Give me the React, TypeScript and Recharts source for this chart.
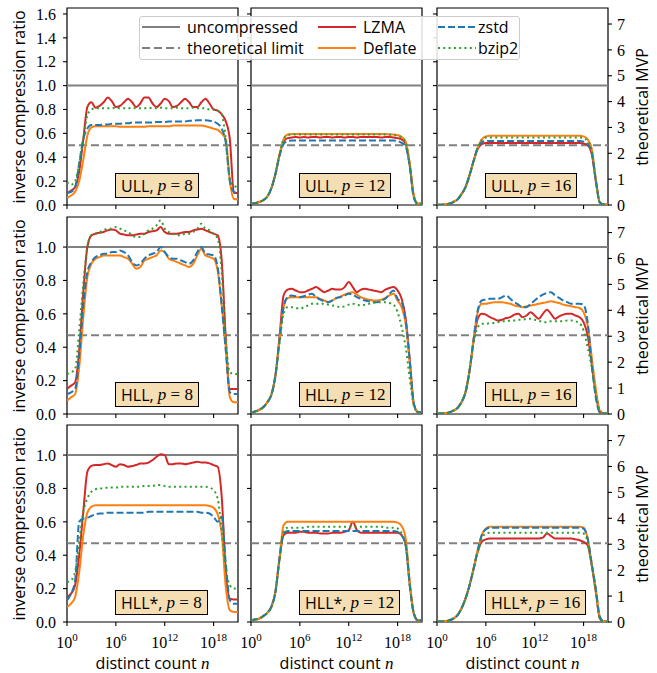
import React from "react";
import { LineChart, Line, XAxis, YAxis, ReferenceLine, ReferenceArea } from "recharts";

// log10(n) grid
const LOG_N = [0, 0.5, 1, 1.5, 2, 2.5, 3, 3.5, 4, 4.5, 5, 5.5, 6, 6.5, 7, 7.5, 8, 8.5, 9, 9.5, 10, 10.5, 11, 11.5, 12, 12.5, 13, 13.5, 14, 14.5, 15, 15.5, 16, 16.5, 17, 17.5, 18, 18.5, 19, 19.5, 20, 20.5, 21];
const X_TICKS = [0, 6, 12, 18];
const Y_TICKS_ULL = [0, 0.2, 0.4, 0.6, 0.8, 1.0, 1.2, 1.4, 1.6];
const Y_TICKS_HLL = [0, 0.2, 0.4, 0.6, 0.8, 1.0];
const MVP_TICKS = [0, 1, 2, 3, 4, 5, 6, 7];
const SKETCHES = ["ULL", "HLL", "HLL*"];
const PRECISIONS = [8, 12, 16];
const UNCOMPRESSED = 1.0;
const THEORETICAL_LIMIT = [0.5, 0.472, 0.472];
const Y_MAX = [1.65, 1.18, 1.18];
const MVP_MAX = [7.62, 7.6, 7.6];

// ULL, p = 8
const ULL8_LZMA = [0.10, 0.12, 0.15, 0.28, 0.55, 0.82, 0.86, 0.815, 0.83, 0.86, 0.90, 0.87, 0.82, 0.83, 0.86, 0.89, 0.86, 0.82, 0.85, 0.90, 0.90, 0.85, 0.82, 0.85, 0.89, 0.87, 0.82, 0.83, 0.86, 0.89, 0.86, 0.82, 0.82, 0.86, 0.89, 0.85, 0.80, 0.79, 0.76, 0.70, 0.55, 0.10, 0.10];
const ULL8_DEFLATE = [0.06, 0.08, 0.11, 0.20, 0.38, 0.58, 0.65, 0.66, 0.66, 0.66, 0.66, 0.66, 0.66, 0.655, 0.655, 0.655, 0.655, 0.655, 0.655, 0.655, 0.66, 0.66, 0.66, 0.66, 0.66, 0.66, 0.665, 0.665, 0.665, 0.665, 0.665, 0.665, 0.665, 0.665, 0.66, 0.65, 0.64, 0.63, 0.60, 0.55, 0.20, 0.05, 0.045];
const ULL8_ZSTD = [0.10, 0.11, 0.15, 0.35, 0.55, 0.64, 0.67, 0.67, 0.67, 0.675, 0.675, 0.68, 0.68, 0.68, 0.685, 0.685, 0.69, 0.69, 0.69, 0.69, 0.69, 0.69, 0.695, 0.695, 0.695, 0.70, 0.70, 0.70, 0.70, 0.70, 0.705, 0.705, 0.71, 0.71, 0.71, 0.705, 0.70, 0.68, 0.64, 0.52, 0.20, 0.11, 0.10];
const ULL8_BZIP2 = [0.19, 0.17, 0.20, 0.35, 0.55, 0.75, 0.80, 0.81, 0.81, 0.81, 0.81, 0.81, 0.815, 0.81, 0.81, 0.81, 0.815, 0.81, 0.81, 0.81, 0.815, 0.81, 0.81, 0.815, 0.81, 0.81, 0.81, 0.815, 0.81, 0.81, 0.81, 0.815, 0.81, 0.81, 0.81, 0.80, 0.80, 0.79, 0.76, 0.55, 0.22, 0.16, 0.15];

// ULL, p = 12
const ULL12_LZMA = [0.01, 0.015, 0.025, 0.04, 0.07, 0.14, 0.26, 0.42, 0.53, 0.56, 0.565, 0.57, 0.565, 0.57, 0.565, 0.57, 0.57, 0.565, 0.57, 0.57, 0.565, 0.57, 0.57, 0.565, 0.57, 0.57, 0.565, 0.57, 0.57, 0.57, 0.57, 0.57, 0.565, 0.57, 0.57, 0.565, 0.56, 0.55, 0.51, 0.33, 0.07, 0.01, 0.01];
const ULL12_DEFLATE = [0.01, 0.015, 0.025, 0.04, 0.07, 0.14, 0.26, 0.42, 0.55, 0.59, 0.595, 0.595, 0.595, 0.595, 0.595, 0.595, 0.595, 0.595, 0.595, 0.595, 0.595, 0.595, 0.595, 0.595, 0.595, 0.595, 0.595, 0.595, 0.595, 0.595, 0.595, 0.595, 0.595, 0.595, 0.59, 0.59, 0.585, 0.57, 0.53, 0.35, 0.08, 0.01, 0.01];
const ULL12_ZSTD = [0.01, 0.015, 0.025, 0.04, 0.07, 0.14, 0.26, 0.41, 0.51, 0.535, 0.54, 0.54, 0.54, 0.54, 0.54, 0.54, 0.54, 0.54, 0.54, 0.54, 0.54, 0.54, 0.54, 0.54, 0.54, 0.54, 0.54, 0.54, 0.54, 0.54, 0.54, 0.54, 0.54, 0.54, 0.54, 0.54, 0.535, 0.52, 0.49, 0.32, 0.06, 0.01, 0.01];
const ULL12_BZIP2 = [0.01, 0.015, 0.025, 0.04, 0.07, 0.14, 0.26, 0.42, 0.55, 0.585, 0.59, 0.59, 0.59, 0.59, 0.59, 0.59, 0.59, 0.59, 0.59, 0.59, 0.59, 0.59, 0.59, 0.59, 0.59, 0.59, 0.59, 0.59, 0.59, 0.59, 0.59, 0.59, 0.59, 0.59, 0.59, 0.585, 0.58, 0.565, 0.52, 0.33, 0.07, 0.01, 0.01];

// ULL, p = 16
const ULL16_LZMA = [0.003, 0.003, 0.005, 0.01, 0.025, 0.045, 0.09, 0.15, 0.25, 0.37, 0.47, 0.51, 0.52, 0.52, 0.52, 0.52, 0.52, 0.52, 0.52, 0.52, 0.52, 0.52, 0.52, 0.52, 0.52, 0.52, 0.52, 0.52, 0.52, 0.52, 0.52, 0.52, 0.52, 0.52, 0.52, 0.52, 0.515, 0.50, 0.43, 0.20, 0.02, 0.005, 0.005];
const ULL16_DEFLATE = [0.003, 0.003, 0.005, 0.01, 0.025, 0.045, 0.09, 0.15, 0.25, 0.37, 0.48, 0.55, 0.575, 0.58, 0.58, 0.58, 0.58, 0.58, 0.58, 0.58, 0.58, 0.58, 0.58, 0.58, 0.58, 0.58, 0.58, 0.58, 0.58, 0.58, 0.58, 0.58, 0.58, 0.58, 0.58, 0.58, 0.575, 0.55, 0.47, 0.22, 0.02, 0.005, 0.005];
const ULL16_ZSTD = [0.003, 0.003, 0.005, 0.01, 0.025, 0.045, 0.09, 0.15, 0.25, 0.37, 0.48, 0.525, 0.535, 0.535, 0.535, 0.535, 0.535, 0.535, 0.535, 0.535, 0.535, 0.535, 0.535, 0.535, 0.535, 0.535, 0.535, 0.535, 0.535, 0.535, 0.535, 0.535, 0.535, 0.535, 0.535, 0.535, 0.53, 0.51, 0.44, 0.21, 0.02, 0.005, 0.005];
const ULL16_BZIP2 = [0.003, 0.003, 0.005, 0.01, 0.025, 0.045, 0.09, 0.15, 0.25, 0.37, 0.48, 0.545, 0.565, 0.565, 0.565, 0.565, 0.565, 0.565, 0.565, 0.565, 0.565, 0.565, 0.565, 0.565, 0.565, 0.565, 0.565, 0.565, 0.565, 0.565, 0.565, 0.565, 0.565, 0.565, 0.565, 0.565, 0.56, 0.535, 0.46, 0.21, 0.02, 0.005, 0.005];

// HLL, p = 8
const HLL8_LZMA = [0.15, 0.17, 0.19, 0.38, 0.73, 1.0, 1.07, 1.08, 1.085, 1.09, 1.10, 1.105, 1.10, 1.08, 1.075, 1.07, 1.07, 1.075, 1.08, 1.08, 1.09, 1.095, 1.10, 1.12, 1.09, 1.08, 1.08, 1.08, 1.085, 1.09, 1.09, 1.10, 1.105, 1.11, 1.10, 1.09, 1.08, 1.07, 0.92, 0.45, 0.15, 0.15, 0.15];
const HLL8_DEFLATE = [0.08, 0.10, 0.12, 0.28, 0.58, 0.82, 0.90, 0.93, 0.94, 0.95, 0.95, 0.95, 0.95, 0.95, 0.94, 0.93, 0.90, 0.87, 0.88, 0.92, 0.93, 0.94, 0.95, 0.98, 0.97, 0.93, 0.92, 0.91, 0.90, 0.89, 0.88, 0.90, 0.95, 0.99, 0.95, 0.94, 0.93, 0.86, 0.65, 0.40, 0.10, 0.07, 0.07];
const HLL8_ZSTD = [0.12, 0.13, 0.15, 0.35, 0.65, 0.85, 0.91, 0.94, 0.95, 0.96, 0.96, 0.97, 0.97, 0.98, 0.97, 0.95, 0.91, 0.89, 0.90, 0.93, 0.95, 0.96, 0.97, 1.0, 0.97, 0.94, 0.93, 0.93, 0.92, 0.91, 0.90, 0.92, 0.97, 1.0, 0.96, 0.955, 0.95, 0.88, 0.65, 0.38, 0.13, 0.12, 0.12];
const HLL8_BZIP2 = [0.24, 0.25, 0.27, 0.50, 0.78, 1.0, 1.07, 1.08, 1.09, 1.10, 1.11, 1.11, 1.12, 1.11, 1.10, 1.09, 1.07, 1.06, 1.06, 1.08, 1.10, 1.11, 1.13, 1.16, 1.11, 1.09, 1.08, 1.07, 1.07, 1.08, 1.08, 1.09, 1.11, 1.14, 1.11, 1.10, 1.08, 1.05, 0.85, 0.45, 0.25, 0.24, 0.24];

// HLL, p = 12
const HLL12_LZMA = [0.01, 0.015, 0.025, 0.04, 0.07, 0.115, 0.23, 0.46, 0.71, 0.745, 0.75, 0.74, 0.73, 0.73, 0.74, 0.75, 0.76, 0.745, 0.73, 0.74, 0.75, 0.745, 0.745, 0.76, 0.79, 0.76, 0.73, 0.745, 0.75, 0.745, 0.74, 0.735, 0.73, 0.745, 0.755, 0.76, 0.74, 0.69, 0.57, 0.32, 0.06, 0.012, 0.01];
const HLL12_DEFLATE = [0.01, 0.015, 0.025, 0.04, 0.07, 0.115, 0.23, 0.44, 0.64, 0.695, 0.70, 0.70, 0.70, 0.70, 0.70, 0.70, 0.70, 0.69, 0.68, 0.67, 0.68, 0.695, 0.705, 0.715, 0.725, 0.73, 0.715, 0.70, 0.69, 0.685, 0.68, 0.68, 0.685, 0.695, 0.71, 0.72, 0.68, 0.64, 0.54, 0.31, 0.06, 0.012, 0.01];
const HLL12_ZSTD = [0.01, 0.015, 0.025, 0.04, 0.07, 0.115, 0.23, 0.44, 0.64, 0.70, 0.71, 0.705, 0.70, 0.705, 0.715, 0.72, 0.70, 0.685, 0.675, 0.67, 0.68, 0.695, 0.70, 0.71, 0.72, 0.715, 0.70, 0.69, 0.68, 0.675, 0.67, 0.67, 0.68, 0.69, 0.72, 0.74, 0.69, 0.67, 0.56, 0.32, 0.06, 0.012, 0.01];
const HLL12_BZIP2 = [0.01, 0.015, 0.025, 0.04, 0.07, 0.115, 0.23, 0.43, 0.60, 0.64, 0.64, 0.635, 0.63, 0.64, 0.65, 0.66, 0.66, 0.66, 0.66, 0.655, 0.65, 0.645, 0.64, 0.645, 0.655, 0.66, 0.655, 0.65, 0.655, 0.66, 0.665, 0.67, 0.67, 0.67, 0.665, 0.655, 0.61, 0.52, 0.40, 0.21, 0.05, 0.01, 0.01];

// HLL, p = 16
const HLL16_LZMA = [0.003, 0.003, 0.005, 0.01, 0.02, 0.035, 0.07, 0.13, 0.26, 0.44, 0.57, 0.60, 0.595, 0.58, 0.57, 0.56, 0.565, 0.575, 0.58, 0.595, 0.60, 0.58, 0.59, 0.61, 0.59, 0.57, 0.60, 0.625, 0.60, 0.57, 0.585, 0.595, 0.60, 0.60, 0.59, 0.58, 0.55, 0.47, 0.30, 0.12, 0.01, 0.003, 0.003];
const HLL16_DEFLATE = [0.003, 0.003, 0.005, 0.01, 0.02, 0.035, 0.07, 0.13, 0.26, 0.45, 0.61, 0.66, 0.66, 0.665, 0.67, 0.67, 0.67, 0.665, 0.66, 0.65, 0.645, 0.64, 0.645, 0.65, 0.655, 0.66, 0.665, 0.67, 0.675, 0.67, 0.665, 0.655, 0.65, 0.645, 0.64, 0.635, 0.61, 0.53, 0.34, 0.15, 0.02, 0.003, 0.003];
const HLL16_ZSTD = [0.003, 0.003, 0.005, 0.01, 0.02, 0.035, 0.07, 0.13, 0.26, 0.45, 0.62, 0.68, 0.685, 0.69, 0.69, 0.69, 0.70, 0.71, 0.69, 0.67, 0.655, 0.64, 0.64, 0.66, 0.68, 0.70, 0.715, 0.725, 0.73, 0.71, 0.695, 0.68, 0.67, 0.66, 0.66, 0.66, 0.655, 0.55, 0.30, 0.10, 0.01, 0.003, 0.003];
const HLL16_BZIP2 = [0.003, 0.003, 0.005, 0.01, 0.02, 0.035, 0.07, 0.13, 0.26, 0.43, 0.52, 0.54, 0.54, 0.545, 0.545, 0.55, 0.555, 0.555, 0.56, 0.56, 0.565, 0.565, 0.57, 0.57, 0.565, 0.56, 0.55, 0.55, 0.555, 0.555, 0.555, 0.555, 0.56, 0.56, 0.555, 0.545, 0.50, 0.40, 0.28, 0.13, 0.02, 0.003, 0.003];

// HLL*, p = 8
const HLLS8_LZMA = [0.15, 0.17, 0.22, 0.40, 0.66, 0.90, 0.935, 0.94, 0.94, 0.945, 0.95, 0.94, 0.93, 0.945, 0.94, 0.93, 0.935, 0.94, 0.95, 0.95, 0.955, 0.97, 0.99, 1.005, 1.0, 0.945, 0.945, 0.95, 0.95, 0.945, 0.95, 0.955, 0.96, 0.955, 0.955, 0.95, 0.94, 0.93, 0.75, 0.30, 0.14, 0.135, 0.135];
const HLLS8_DEFLATE = [0.09, 0.11, 0.15, 0.30, 0.52, 0.655, 0.69, 0.70, 0.70, 0.70, 0.70, 0.70, 0.70, 0.70, 0.70, 0.70, 0.70, 0.70, 0.70, 0.70, 0.70, 0.70, 0.70, 0.70, 0.70, 0.70, 0.70, 0.70, 0.70, 0.70, 0.70, 0.70, 0.70, 0.70, 0.70, 0.695, 0.685, 0.645, 0.53, 0.21, 0.07, 0.06, 0.06];
const HLLS8_ZSTD = [0.13, 0.17, 0.25, 0.60, 0.62, 0.625, 0.635, 0.645, 0.65, 0.65, 0.655, 0.655, 0.655, 0.655, 0.655, 0.655, 0.655, 0.655, 0.655, 0.655, 0.66, 0.66, 0.66, 0.66, 0.66, 0.66, 0.66, 0.66, 0.66, 0.66, 0.66, 0.66, 0.66, 0.655, 0.655, 0.65, 0.63, 0.60, 0.63, 0.35, 0.13, 0.11, 0.11];
const HLLS8_BZIP2 = [0.24, 0.25, 0.30, 0.48, 0.66, 0.74, 0.78, 0.795, 0.80, 0.80, 0.805, 0.805, 0.805, 0.81, 0.81, 0.81, 0.81, 0.81, 0.81, 0.815, 0.815, 0.815, 0.82, 0.82, 0.815, 0.81, 0.81, 0.81, 0.81, 0.81, 0.81, 0.81, 0.81, 0.81, 0.81, 0.805, 0.79, 0.74, 0.55, 0.32, 0.22, 0.20, 0.20];

// HLL*, p = 12
const HLLS12_LZMA = [0.01, 0.015, 0.02, 0.035, 0.055, 0.09, 0.18, 0.38, 0.52, 0.535, 0.535, 0.535, 0.54, 0.54, 0.535, 0.535, 0.535, 0.53, 0.53, 0.53, 0.535, 0.535, 0.535, 0.54, 0.55, 0.60, 0.55, 0.535, 0.535, 0.535, 0.535, 0.535, 0.535, 0.535, 0.535, 0.535, 0.535, 0.52, 0.46, 0.22, 0.05, 0.01, 0.01];
const HLLS12_DEFLATE = [0.01, 0.015, 0.02, 0.035, 0.055, 0.09, 0.18, 0.38, 0.58, 0.60, 0.60, 0.60, 0.60, 0.60, 0.60, 0.60, 0.60, 0.60, 0.60, 0.60, 0.60, 0.60, 0.60, 0.60, 0.60, 0.60, 0.60, 0.60, 0.60, 0.60, 0.60, 0.60, 0.60, 0.60, 0.60, 0.60, 0.595, 0.575, 0.50, 0.24, 0.05, 0.01, 0.01];
const HLLS12_ZSTD = [0.01, 0.015, 0.02, 0.035, 0.055, 0.09, 0.18, 0.38, 0.53, 0.545, 0.545, 0.545, 0.545, 0.545, 0.545, 0.545, 0.545, 0.545, 0.545, 0.545, 0.545, 0.545, 0.545, 0.545, 0.545, 0.545, 0.545, 0.545, 0.545, 0.545, 0.545, 0.545, 0.545, 0.545, 0.545, 0.545, 0.54, 0.52, 0.46, 0.22, 0.05, 0.01, 0.01];
const HLLS12_BZIP2 = [0.01, 0.015, 0.02, 0.035, 0.055, 0.09, 0.18, 0.38, 0.54, 0.565, 0.565, 0.565, 0.565, 0.565, 0.57, 0.57, 0.57, 0.57, 0.57, 0.57, 0.57, 0.57, 0.57, 0.57, 0.57, 0.57, 0.57, 0.57, 0.57, 0.57, 0.57, 0.57, 0.57, 0.565, 0.565, 0.565, 0.56, 0.53, 0.46, 0.22, 0.05, 0.01, 0.01];

// HLL*, p = 16
const HLLS16_LZMA = [0.003, 0.003, 0.005, 0.01, 0.02, 0.04, 0.08, 0.14, 0.22, 0.32, 0.42, 0.48, 0.495, 0.50, 0.50, 0.50, 0.50, 0.50, 0.50, 0.50, 0.50, 0.50, 0.50, 0.50, 0.50, 0.50, 0.505, 0.53, 0.515, 0.50, 0.50, 0.50, 0.50, 0.50, 0.495, 0.49, 0.48, 0.46, 0.34, 0.18, 0.02, 0.003, 0.003];
const HLLS16_DEFLATE = [0.003, 0.003, 0.005, 0.01, 0.02, 0.04, 0.08, 0.14, 0.22, 0.32, 0.43, 0.52, 0.56, 0.57, 0.57, 0.57, 0.57, 0.57, 0.57, 0.57, 0.57, 0.57, 0.57, 0.57, 0.57, 0.57, 0.57, 0.57, 0.57, 0.57, 0.57, 0.57, 0.57, 0.57, 0.57, 0.57, 0.565, 0.50, 0.35, 0.20, 0.03, 0.003, 0.003];
const HLLS16_ZSTD = [0.003, 0.003, 0.005, 0.01, 0.02, 0.04, 0.08, 0.14, 0.22, 0.32, 0.43, 0.52, 0.555, 0.565, 0.565, 0.565, 0.565, 0.565, 0.565, 0.565, 0.565, 0.565, 0.565, 0.565, 0.565, 0.565, 0.565, 0.565, 0.565, 0.565, 0.565, 0.565, 0.565, 0.565, 0.565, 0.565, 0.56, 0.50, 0.35, 0.20, 0.03, 0.003, 0.003];
const HLLS16_BZIP2 = [0.003, 0.003, 0.005, 0.01, 0.02, 0.04, 0.08, 0.14, 0.22, 0.32, 0.42, 0.50, 0.53, 0.535, 0.535, 0.535, 0.535, 0.535, 0.535, 0.535, 0.535, 0.535, 0.535, 0.535, 0.535, 0.535, 0.535, 0.535, 0.535, 0.535, 0.535, 0.535, 0.535, 0.535, 0.535, 0.535, 0.53, 0.48, 0.34, 0.19, 0.02, 0.003, 0.003];

const PANEL_SERIES = [
  [
    { lzma: ULL8_LZMA, deflate: ULL8_DEFLATE, zstd: ULL8_ZSTD, bzip2: ULL8_BZIP2 },
    { lzma: ULL12_LZMA, deflate: ULL12_DEFLATE, zstd: ULL12_ZSTD, bzip2: ULL12_BZIP2 },
    { lzma: ULL16_LZMA, deflate: ULL16_DEFLATE, zstd: ULL16_ZSTD, bzip2: ULL16_BZIP2 },
  ],
  [
    { lzma: HLL8_LZMA, deflate: HLL8_DEFLATE, zstd: HLL8_ZSTD, bzip2: HLL8_BZIP2 },
    { lzma: HLL12_LZMA, deflate: HLL12_DEFLATE, zstd: HLL12_ZSTD, bzip2: HLL12_BZIP2 },
    { lzma: HLL16_LZMA, deflate: HLL16_DEFLATE, zstd: HLL16_ZSTD, bzip2: HLL16_BZIP2 },
  ],
  [
    { lzma: HLLS8_LZMA, deflate: HLLS8_DEFLATE, zstd: HLLS8_ZSTD, bzip2: HLLS8_BZIP2 },
    { lzma: HLLS12_LZMA, deflate: HLLS12_DEFLATE, zstd: HLLS12_ZSTD, bzip2: HLLS12_BZIP2 },
    { lzma: HLLS16_LZMA, deflate: HLLS16_DEFLATE, zstd: HLLS16_ZSTD, bzip2: HLLS16_BZIP2 },
  ],
];

const C_LZMA = "#d62728";
const C_DEFLATE = "#ff7f0e";
const C_ZSTD = "#1f77b4";
const C_BZIP2 = "#2ca02c";
const C_REF = "#808080";
const DASH = "7 3";
const DOT = "2 3.3";
const REF_DASH = "8 4";

const SERIF = "'Liberation Serif', 'DejaVu Serif', serif";
const SANS = "'Open Sans', 'Noto Sans', sans-serif";

const PANEL_LEFT = [67, 251, 437];
const PANEL_TOP = [8, 217, 425];
const PW = 171;
const PH = 197;
const LW = 60;
const MT = 6;
const XH = 40;

function XTick(props: any) {
  const { x, y, payload, show } = props;
  if (!show) return <g />;
  return (
    <text x={x} y={y + 20} textAnchor="middle" fontFamily={SERIF} fontSize={16} fill="#000">
      <tspan>10</tspan>
      <tspan dy={-7} fontSize={11}>{payload.value}</tspan>
    </text>
  );
}

function Panel({ row, col }: { row: number; col: number }) {
  const s = PANEL_SERIES[row][col];
  const data = LOG_N.map((x, i) => ({ x, lzma: s.lzma[i], deflate: s.deflate[i], zstd: s.zstd[i], bzip2: s.bzip2[i] }));
  const RW = col === 2 ? 45 : 0;
  const MR = col === 2 ? 0 : 10;
  const yMax = Y_MAX[row];
  const yTicks = row === 0 ? Y_TICKS_ULL : Y_TICKS_HLL;
  return (
    <div style={{ position: "absolute", left: PANEL_LEFT[col] - LW, top: PANEL_TOP[row] - MT }}>
      <LineChart
        width={LW + PW + RW + MR}
        height={MT + PH + XH}
        data={data}
        margin={{ top: MT, right: MR, bottom: 0, left: 0 }}
      >
        <XAxis
          dataKey="x"
          type="number"
          domain={[0, 21]}
          ticks={X_TICKS}
          interval={0}
          height={XH}
          axisLine={false}
          tickLine={{ stroke: "#000", strokeWidth: 1.1 }}
          tickSize={4}
          tick={(p: any) => <XTick {...p} show={row === 2} />}
          allowDataOverflow
        />
        <YAxis
          yAxisId="l"
          type="number"
          domain={[0, yMax]}
          ticks={yTicks}
          interval={0}
          width={LW}
          axisLine={false}
          tickLine={{ stroke: "#000", strokeWidth: 1.1 }}
          tickSize={4}
          tickMargin={7}
          tick={{ fill: "#000", fontSize: 16, fontFamily: SERIF }}
          tickFormatter={(v: number) => (col === 0 ? v.toFixed(1) : "")}
          allowDataOverflow
        />
        {col === 2 && (
          <YAxis
            yAxisId="r"
            orientation="right"
            type="number"
            domain={[0, MVP_MAX[row]]}
            ticks={MVP_TICKS}
            interval={0}
            width={RW}
            axisLine={false}
            tickLine={{ stroke: "#000", strokeWidth: 1.1 }}
            tickSize={4}
            tickMargin={5}
            tick={{ fill: "#000", fontSize: 16, fontFamily: SERIF }}
            allowDataOverflow
          />
        )}
        <ReferenceLine yAxisId="l" y={UNCOMPRESSED} stroke={C_REF} strokeWidth={2} />
        <ReferenceLine yAxisId="l" y={THEORETICAL_LIMIT[row]} stroke={C_REF} strokeWidth={2} strokeDasharray={REF_DASH} />
        <Line yAxisId="l" type="monotone" dataKey="lzma" stroke={C_LZMA} strokeWidth={2} dot={false} isAnimationActive={false} />
        <Line yAxisId="l" type="monotone" dataKey="deflate" stroke={C_DEFLATE} strokeWidth={2} dot={false} isAnimationActive={false} />
        <Line yAxisId="l" type="monotone" dataKey="zstd" stroke={C_ZSTD} strokeWidth={2} strokeDasharray={DASH} dot={false} isAnimationActive={false} />
        <Line yAxisId="l" type="monotone" dataKey="bzip2" stroke={C_BZIP2} strokeWidth={2} strokeDasharray={DOT} dot={false} isAnimationActive={false} />
        <ReferenceArea yAxisId="l" x1={0} x2={21} y1={0} y2={yMax} fill="none" fillOpacity={0} stroke="#000" strokeWidth={1.2} ifOverflow="visible" />
      </LineChart>
    </div>
  );
}

function PanelLabel({ row, col }: { row: number; col: number }) {
  return (
    <div
      style={{
        position: "absolute",
        left: PANEL_LEFT[col] + 48,
        top: PANEL_TOP[row] + PH - 7 - 25,
        height: 25,
        boxSizing: "border-box",
        border: "1.3px solid #000",
        background: "#f5deb3",
        padding: "0 5px",
        display: "flex",
        alignItems: "center",
        whiteSpace: "nowrap",
        fontSize: 16,
        lineHeight: 1,
        color: "#000",
      }}
    >
      <span style={{ fontFamily: SANS }}>{SKETCHES[row]},&nbsp;</span>
      <span style={{ fontFamily: SERIF, fontStyle: "italic", fontSize: 17 }}>p</span>
      <span style={{ fontFamily: SERIF, fontSize: 17 }}>&nbsp;=&nbsp;{PRECISIONS[col]}</span>
    </div>
  );
}

const LEGEND_ITEMS = [
  { label: "uncompressed", color: C_REF, dash: undefined as string | undefined, lx: 3, tx: 48, r: 0 },
  { label: "theoretical limit", color: C_REF, dash: REF_DASH, lx: 3, tx: 48, r: 1 },
  { label: "LZMA", color: C_LZMA, dash: undefined, lx: 179, tx: 224, r: 0 },
  { label: "Deflate", color: C_DEFLATE, dash: undefined, lx: 179, tx: 224, r: 1 },
  { label: "zstd", color: C_ZSTD, dash: DASH, lx: 299, tx: 339, r: 0 },
  { label: "bzip2", color: C_BZIP2, dash: DOT, lx: 299, tx: 339, r: 1 },
];

function Legend() {
  return (
    <div
      style={{
        position: "absolute",
        left: 139,
        top: 16,
        width: 381,
        height: 44,
        boxSizing: "border-box",
        background: "rgba(255,255,255,0.85)",
        border: "1px solid #cccccc",
        borderRadius: 3,
        zIndex: 5,
      }}
    >
      {LEGEND_ITEMS.map((it) => {
        const cy = it.r === 0 ? 10 : 31;
        return (
          <React.Fragment key={it.label}>
            <svg style={{ position: "absolute", left: it.lx - 1, top: cy - 4 }} width={38} height={8}>
              <line x1={0} y1={4} x2={38} y2={4} stroke={it.color} strokeWidth={2} strokeDasharray={it.dash} />
            </svg>
            <div
              style={{
                position: "absolute",
                left: it.tx - 1,
                top: cy,
                transform: "translateY(-52%)",
                fontFamily: SANS,
                fontSize: 16,
                lineHeight: 1,
                whiteSpace: "nowrap",
                color: "#000",
              }}
            >
              {it.label}
            </div>
          </React.Fragment>
        );
      })}
    </div>
  );
}

function VTitle({ cx, cy, children }: { cx: number; cy: number; children: React.ReactNode }) {
  return (
    <div
      style={{
        position: "absolute",
        left: cx,
        top: cy,
        transform: "translate(-50%, -50%) rotate(-90deg)",
        fontFamily: SANS,
        fontSize: 16,
        lineHeight: 1,
        whiteSpace: "nowrap",
        color: "#000",
      }}
    >
      {children}
    </div>
  );
}

export default function App() {
  const rows = [0, 1, 2];
  const cols = [0, 1, 2];
  return (
    <div style={{ position: "absolute", left: 0, top: 0, width: 657, height: 673, background: "#fff", overflow: "hidden" }}>
      {rows.map((r) => cols.map((c) => <Panel key={`p${r}${c}`} row={r} col={c} />))}
      {rows.map((r) => cols.map((c) => <PanelLabel key={`l${r}${c}`} row={r} col={c} />))}
      {rows.map((r) => (
        <VTitle key={`yl${r}`} cx={19} cy={PANEL_TOP[r] + PH / 2}>inverse compression ratio</VTitle>
      ))}
      {rows.map((r) => (
        <VTitle key={`yr${r}`} cx={642} cy={PANEL_TOP[r] + PH / 2}>theoretical MVP</VTitle>
      ))}
      {cols.map((c) => (
        <div
          key={`xl${c}`}
          style={{
            position: "absolute",
            left: PANEL_LEFT[c] + PW / 2,
            top: 663,
            transform: "translate(-50%, -50%)",
            fontFamily: SANS,
            fontSize: 16,
            lineHeight: 1,
            whiteSpace: "nowrap",
            color: "#000",
          }}
        >
          distinct count <span style={{ fontFamily: SERIF, fontStyle: "italic", fontSize: 17 }}>n</span>
        </div>
      ))}
      <Legend />
    </div>
  );
}
